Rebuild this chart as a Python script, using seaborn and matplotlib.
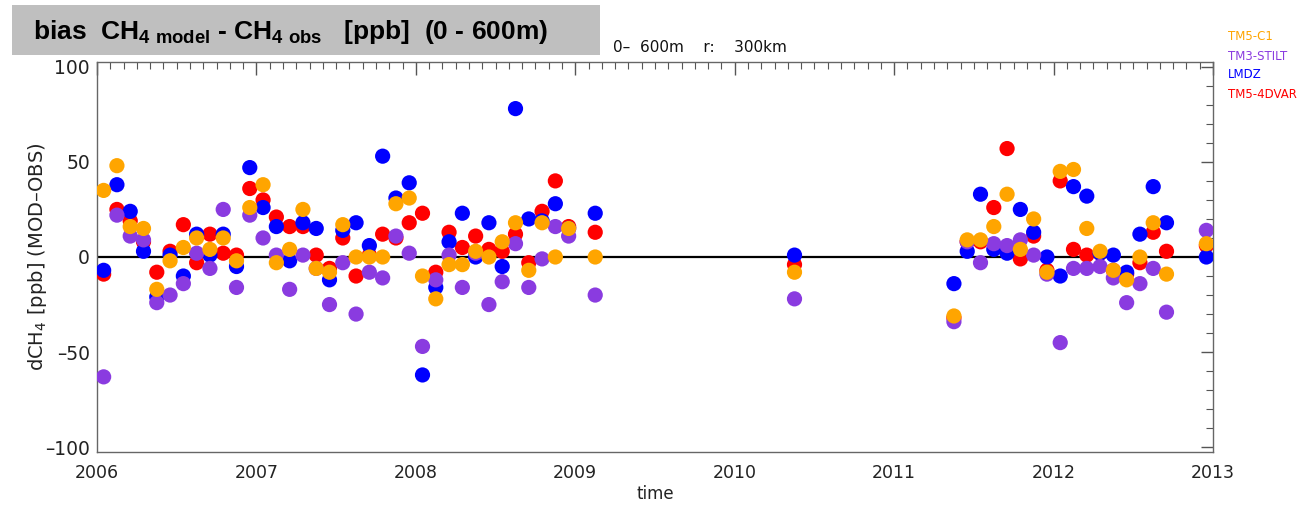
import numpy as np
import pandas as pd
import matplotlib
matplotlib.use("Agg")
import matplotlib.pyplot as plt
import seaborn as sns
from matplotlib.patches import Rectangle
from matplotlib.ticker import MultipleLocator, FuncFormatter

# ---------------- data ----------------
years = [2006]*12 + [2007]*12 + [2008]*12 + [2009] + [2010] + [2011]*8 + [2012]*10
months = (list(range(1, 13)) * 3) + [2] + [5] + list(range(5, 13)) + list(range(1, 10)) + [12]

tm5_c1 = [35, 48, 16, 15, -17, -2, 5, 10, 4, 10, -2, 26,
          38, -3, 4, 25, -6, -8, 17, 0, 0, 0, 28, 31,
          -10, -22, -4, -4, 3, 0, 8, 18, -7, 18, 0, 15,
          0,
          -8,
          -31, 9, 9, 16, 33, 4, 20, -8,
          45, 46, 15, 3, -7, -12, 0, 18, -9, 7]
tm3_stilt = [-63, 22, 11, 9, -24, -20, -14, 2, -6, 25, -16, 22,
             10, 1, -17, 1, -6, -25, -3, -30, -8, -11, 11, 2,
             -47, -12, 1, -16, 2, -25, -13, 7, -16, -1, 16, 11,
             -20,
             -22,
             -34, 8, -3, 7, 6, 9, 1, -9,
             -45, -6, -6, -5, -11, -24, -14, -6, -29, 14]
lmdz = [-7, 38, 24, 3, -21, 1, -10, 12, 1, 12, -5, 47,
        26, 16, -2, 18, 15, -12, 14, 18, 6, 53, 31, 39,
        -62, -16, 8, 23, 0, 18, -5, 78, 20, 19, 28, 15,
        23,
        1,
        -14, 3, 33, 4, 2, 25, 13, 0,
        -10, 37, 32, 2, 1, -8, 12, 37, 18, 0]
tm5_4dvar = [-9, 25, 19, 8, -8, 3, 17, -3, 12, 2, 1, 36,
             30, 21, 16, 16, 1, -6, 10, -10, 1, 12, 10, 18,
             23, -8, 13, 5, 11, 4, 3, 12, -3, 24, 40, 16,
             13,
             -4,
             -32, 8, 8, 26, 57, -1, 11, -7,
             40, 4, 1, 2, -7, -9, -3, 13, 3, 6]

model_names = ["TM5-4DVAR", "LMDZ", "TM3-STILT", "TM5-C1"]   # drawing order
model_values = [tm5_4dvar, lmdz, tm3_stilt, tm5_c1]
model_colors = {"TM5-C1": "#ffa500", "TM3-STILT": "#8a3be0",
                "LMDZ": "#0000ff", "TM5-4DVAR": "#ff0000"}
legend_order = ["TM5-C1", "TM3-STILT", "LMDZ", "TM5-4DVAR"]

time = [y + (m - 0.5) / 12.0 for y, m in zip(years, months)]
frames = [pd.DataFrame({"time": time, "bias": v, "model": n})
          for n, v in zip(model_names, model_values)]
df = pd.concat(frames, ignore_index=True)

# ---------------- plot ----------------
sns.set_style("white")
plt.rcParams["font.family"] = ["DejaVu Sans"]
plt.rcParams["mathtext.fontset"] = "custom"
plt.rcParams["mathtext.rm"] = "Liberation Sans:bold"
plt.rcParams["mathtext.bf"] = "Liberation Sans:bold"
plt.rcParams["mathtext.default"] = "rm"

W, H = 1300, 507
fig = plt.figure(figsize=(W / 100, H / 100), dpi=100)
ax = fig.add_axes([97 / W, 1 - 452 / H, (1213 - 97) / W, (452 - 62) / H])

ax.axhline(0, color="black", lw=1.6, zorder=1)
sns.scatterplot(data=df, x="time", y="bias", hue="model", palette=model_colors,
                hue_order=model_names, s=120, linewidth=0, alpha=1.0,
                legend=False, ax=ax, zorder=3)

ax.set_xlim(2006, 2013)
ax.set_ylim(-102.5, 102.5)
ax.set_xticks(range(2006, 2014))
ax.xaxis.set_minor_locator(MultipleLocator(1 / 12))
ax.set_yticks([-100, -50, 0, 50, 100])
ax.yaxis.set_major_formatter(FuncFormatter(lambda v, p: f"{v:.0f}".replace("-", "\u2013")))
ax.yaxis.set_minor_locator(MultipleLocator(10))
ax.tick_params(axis="both", which="both", direction="in", top=True, right=True,
               color="#555555", labelcolor="#222222")
ax.tick_params(axis="x", labelsize=12.5, pad=9)
ax.tick_params(axis="y", labelsize=13.5, pad=5)
ax.tick_params(which="major", length=9, width=1)
ax.tick_params(which="minor", length=5, width=0.8)
for sp in ax.spines.values():
    sp.set_color("#666666")
    sp.set_linewidth(1.0)

ax.set_xlabel("time", fontsize=12, color="#222222", labelpad=2)
ax.set_ylabel("dCH$_4$ [ppb] (MOD\u2013OBS)", fontsize=14, color="#222222")
ax.yaxis.label.set_math_fontfamily("dejavusans")
ax.yaxis.set_label_coords((49 - 97) / (1213 - 97), 0.5)

# title box
fig.patches.append(Rectangle((12 / W, 1 - 55 / H), (600 - 12) / W, 50 / H,
                             transform=fig.transFigure, facecolor="#bfbfbf",
                             edgecolor="none", zorder=0))
fig.text(33 / W, 1 - 32 / H,
         r"bias  CH$_{4\ model}$ - CH$_{4\ obs}$   [ppb]  (0 - 600m)",
         fontsize=19, fontweight="bold", family="Liberation Sans",
         va="center", ha="left", color="black")

fig.text(613 / W, 1 - 47 / H, "0\u2013  600m    r:    300km", fontsize=11,
         va="center", ha="left", color="#111111")

# legend texts
for i, name in enumerate(legend_order):
    fig.text(1228 / W, 1 - (37 + 19 * i) / H, name, fontsize=8.5,
             color=model_colors[name], va="center", ha="left")

fig.savefig("out.png", dpi=100, facecolor="white")
